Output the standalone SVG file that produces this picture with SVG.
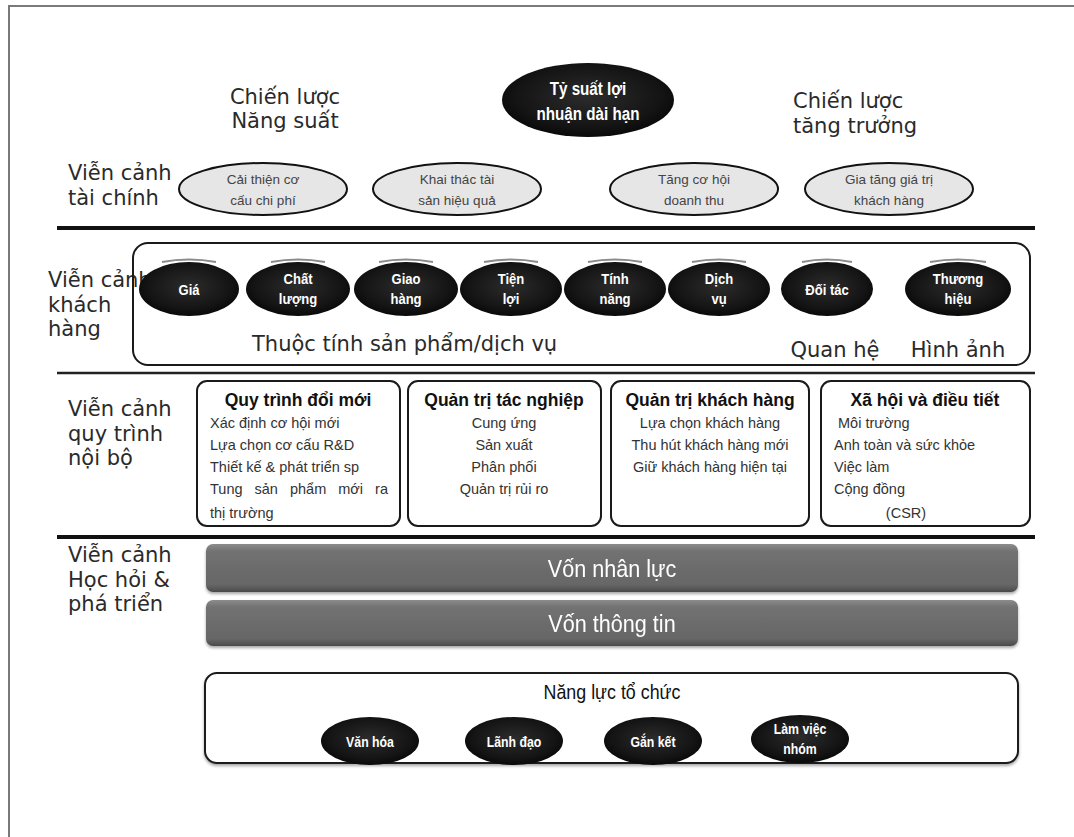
<svg xmlns="http://www.w3.org/2000/svg" width="1074" height="837" viewBox="0 0 1074 837">
  <defs>
    <radialGradient id="darkFill" cx="50%" cy="45%" r="60%">
      <stop offset="0" stop-color="#2c2c2c"/>
      <stop offset="0.7" stop-color="#141414"/>
      <stop offset="1" stop-color="#050505"/>
    </radialGradient>
    <linearGradient id="barFill" x1="0" y1="0" x2="0" y2="1">
      <stop offset="0" stop-color="#8c8c8c"/>
      <stop offset="0.15" stop-color="#727272"/>
      <stop offset="0.85" stop-color="#666666"/>
      <stop offset="1" stop-color="#4a4a4a"/>
    </linearGradient>
    <filter id="soft" x="-5%" y="-20%" width="110%" height="150%">
      <feGaussianBlur in="SourceAlpha" stdDeviation="1.5"/>
      <feOffset dy="2"/>
      <feComponentTransfer><feFuncA type="linear" slope="0.35"/></feComponentTransfer>
      <feMerge><feMergeNode/><feMergeNode in="SourceGraphic"/></feMerge>
    </filter>
  </defs>
  <style>
    .frame { fill: none; stroke: #7a7a7a; stroke-width: 2; }
    .rule { stroke: #111; stroke-width: 4; }
    .rule-thin { stroke: #222; stroke-width: 2.5; }
    .label { font-family: "DejaVu Sans", Verdana, sans-serif; font-size: 21px; fill: #2a2a2a; }
    .fin { fill: #e6e6e6; stroke: #111; stroke-width: 2; }
    .fin-t { font-family: "Liberation Sans", Arial, sans-serif; font-size: 13.5px; fill: #444; text-anchor: middle; }
    .dark { fill: url(#darkFill); }
    .hl { fill: none; stroke: #8a8a8a; stroke-width: 2; }
    .narrow { font-family: "Liberation Sans", Arial, sans-serif; text-anchor: middle; }
    .dark-t { font-weight: bold; font-size: 15px; fill: #fff; }
    .goal-t { font-size: 19px; }
    .box { fill: #fff; stroke: #1a1a1a; stroke-width: 2; }
    .title { font-family: "Liberation Sans", Arial, sans-serif; font-weight: bold; font-size: 17.5px; fill: #111; text-anchor: middle; }
    .item { font-family: "Liberation Sans", Arial, sans-serif; font-size: 14.5px; fill: #333; }
    .mid { text-anchor: middle; }
    .bar { fill: url(#barFill); }
    .bar-t { font-size: 24px; fill: #fff; }
  </style>

  <rect width="1074" height="837" fill="#fff"/>
  <!-- page frame (left and top edges) -->
  <path class="frame" d="M9 837 V6 H1074"/>

  <!-- section rules -->
  <g id="connectors">
    <line class="rule" x1="57" y1="228" x2="1035" y2="228"/>
    <line class="rule-thin" x1="57" y1="373" x2="1035" y2="373"/>
    <line class="rule" x1="57" y1="537" x2="1035" y2="537"/>
  </g>

  <!-- strategy headings -->
  <g id="strategy-productivity">
    <text class="label mid" x="285" y="104">Chiến lược</text>
    <text class="label mid" x="285" y="128">Năng suất</text>
  </g>
  <g id="strategy-growth">
    <text class="label" x="793" y="108">Chiến lược</text>
    <text class="label" x="793" y="133">tăng trưởng</text>
  </g>

  <g id="goal">
    <ellipse class="dark" cx="588" cy="100" rx="86" ry="37"/>
    <text class="narrow dark-t goal-t" transform="translate(588 95) scale(0.8 1)">Tỷ suất lợi</text>
    <text class="narrow dark-t goal-t" transform="translate(588 120) scale(0.8 1)">nhuận dài hạn</text>
  </g>

  <!-- financial perspective -->
  <g id="financial-label">
    <text class="label" x="68" y="180">Viễn cảnh</text>
    <text class="label" x="68" y="205">tài chính</text>
  </g>
  <g id="fin-cost">
    <ellipse class="fin" cx="263" cy="189" rx="84" ry="26"/>
    <text class="fin-t" x="263" y="184">Cải thiện cơ</text>
    <text class="fin-t" x="263" y="205">cấu chi phí</text>
  </g>
  <g id="fin-assets">
    <ellipse class="fin" cx="457" cy="189" rx="84" ry="26"/>
    <text class="fin-t" x="457" y="184">Khai thác tài</text>
    <text class="fin-t" x="457" y="205">sản hiệu quả</text>
  </g>
  <g id="fin-revenue">
    <ellipse class="fin" cx="694" cy="189" rx="84" ry="26"/>
    <text class="fin-t" x="694" y="184">Tăng cơ hội</text>
    <text class="fin-t" x="694" y="205">doanh thu</text>
  </g>
  <g id="fin-value">
    <ellipse class="fin" cx="889" cy="189" rx="84" ry="26"/>
    <text class="fin-t" x="889" y="184">Gia tăng giá trị</text>
    <text class="fin-t" x="889" y="205">khách hàng</text>
  </g>

  <!-- customer perspective -->
  <g id="customer-label">
    <text class="label" x="48" y="287">Viễn cảnh</text>
    <text class="label" x="48" y="312">khách</text>
    <text class="label" x="48" y="336">hàng</text>
  </g>
  <g id="customer-frame">
    <rect x="133" y="243" width="897" height="122" rx="15" fill="none" stroke="#1a1a1a" stroke-width="2"/>
    <text class="label" x="252" y="351">Thuộc tính sản phẩm/dịch vụ</text>
    <text class="label mid" x="835" y="357">Quan hệ</text>
    <text class="label mid" x="958" y="357">Hình ảnh</text>
  </g>
  <g id="c-price">
    <path class="hl" d="M162 262 Q189 257 216 262"/>
    <ellipse class="dark" cx="189" cy="289" rx="50" ry="27"/>
    <text class="narrow dark-t" transform="translate(189 295) scale(0.87 1)">Giá</text>
  </g>
  <g id="c-quality">
    <path class="hl" d="M271 262 Q298 257 325 262"/>
    <ellipse class="dark" cx="298" cy="289" rx="52" ry="27"/>
    <text class="narrow dark-t" transform="translate(298 284) scale(0.87 1)">Chất</text>
    <text class="narrow dark-t" transform="translate(298 304) scale(0.87 1)">lượng</text>
  </g>
  <g id="c-delivery">
    <path class="hl" d="M379 262 Q406 257 433 262"/>
    <ellipse class="dark" cx="406" cy="289" rx="52" ry="27"/>
    <text class="narrow dark-t" transform="translate(406 284) scale(0.87 1)">Giao</text>
    <text class="narrow dark-t" transform="translate(406 304) scale(0.87 1)">hàng</text>
  </g>
  <g id="c-convenience">
    <path class="hl" d="M484 262 Q511 257 538 262"/>
    <ellipse class="dark" cx="511" cy="289" rx="51" ry="27"/>
    <text class="narrow dark-t" transform="translate(511 284) scale(0.87 1)">Tiện</text>
    <text class="narrow dark-t" transform="translate(511 304) scale(0.87 1)">lợi</text>
  </g>
  <g id="c-features">
    <path class="hl" d="M588 262 Q615 257 642 262"/>
    <ellipse class="dark" cx="615" cy="289" rx="51" ry="27"/>
    <text class="narrow dark-t" transform="translate(615 284) scale(0.87 1)">Tính</text>
    <text class="narrow dark-t" transform="translate(615 304) scale(0.87 1)">năng</text>
  </g>
  <g id="c-service">
    <path class="hl" d="M692 262 Q719 257 746 262"/>
    <ellipse class="dark" cx="719" cy="289" rx="51" ry="27"/>
    <text class="narrow dark-t" transform="translate(719 284) scale(0.87 1)">Dịch</text>
    <text class="narrow dark-t" transform="translate(719 304) scale(0.87 1)">vụ</text>
  </g>
  <g id="c-partner">
    <path class="hl" d="M802 262 Q827 257 852 262"/>
    <ellipse class="dark" cx="827" cy="289" rx="46" ry="27"/>
    <text class="narrow dark-t" transform="translate(827 295) scale(0.87 1)">Đối tác</text>
  </g>
  <g id="c-brand">
    <path class="hl" d="M930 262 Q958 257 986 262"/>
    <ellipse class="dark" cx="958" cy="289" rx="53" ry="27"/>
    <text class="narrow dark-t" transform="translate(958 284) scale(0.87 1)">Thương</text>
    <text class="narrow dark-t" transform="translate(958 304) scale(0.87 1)">hiệu</text>
  </g>

  <!-- internal process perspective -->
  <g id="internal-label">
    <text class="label" x="68" y="416">Viễn cảnh</text>
    <text class="label" x="68" y="441">quy trình</text>
    <text class="label" x="68" y="465">nội bộ</text>
  </g>
  <g id="p-innovation">
    <rect class="box" x="197" y="381" width="203" height="145" rx="10"/>
    <text class="title" x="298" y="406">Quy trình đổi mới</text>
    <text class="item" x="210" y="428">Xác định cơ hội mới</text>
    <text class="item" x="210" y="450">Lựa chọn cơ cấu R&amp;D</text>
    <text class="item" x="210" y="472">Thiết kế &amp; phát triển sp</text>
    <text class="item" x="210" y="494" word-spacing="8">Tung sản phẩm mới ra</text>
    <text class="item" x="210" y="518">thị trường</text>
  </g>
  <g id="p-operations">
    <rect class="box" x="408" y="381" width="193" height="145" rx="10"/>
    <text class="title" x="504" y="406">Quản trị tác nghiệp</text>
    <text class="item mid" x="504" y="428">Cung ứng</text>
    <text class="item mid" x="504" y="450">Sản xuất</text>
    <text class="item mid" x="504" y="472">Phân phối</text>
    <text class="item mid" x="504" y="494">Quản trị rủi ro</text>
  </g>
  <g id="p-customer">
    <rect class="box" x="611" y="381" width="198" height="145" rx="10"/>
    <text class="title" x="710" y="406">Quản trị khách hàng</text>
    <text class="item mid" x="710" y="428">Lựa chọn khách hàng</text>
    <text class="item mid" x="710" y="450">Thu hút khách hàng mới</text>
    <text class="item mid" x="710" y="472">Giữ khách hàng hiện tại</text>
  </g>
  <g id="p-social">
    <rect class="box" x="821" y="381" width="209" height="145" rx="10"/>
    <text class="title" x="925" y="406">Xã hội và điều tiết</text>
    <text class="item" x="838" y="428">Môi trường</text>
    <text class="item" x="834" y="450">Anh toàn và sức khỏe</text>
    <text class="item" x="834" y="472">Việc làm</text>
    <text class="item" x="834" y="494">Cộng đồng</text>
    <text class="item mid" x="906" y="518">(CSR)</text>
  </g>

  <!-- learning and growth perspective -->
  <g id="learning-label">
    <text class="label" x="68" y="562" font-size="20">Viễn cảnh</text>
    <text class="label" x="68" y="587" font-size="20">Học hỏi &amp;</text>
    <text class="label" x="68" y="611" font-size="20">phá triển</text>
  </g>
  <g id="human-capital" filter="url(#soft)">
    <rect class="bar" x="206" y="544" width="812" height="48" rx="7"/>
    <text class="narrow bar-t" transform="translate(612 577) scale(0.9 1)">Vốn nhân lực</text>
  </g>
  <g id="information-capital" filter="url(#soft)">
    <rect class="bar" x="206" y="600" width="812" height="46" rx="7"/>
    <text class="narrow bar-t" transform="translate(612 632) scale(0.9 1)">Vốn thông tin</text>
  </g>

  <g id="organization-capital">
    <rect class="box" x="205" y="673" width="813" height="90" rx="12" filter="url(#soft)"/>
    <text class="narrow" font-size="21" fill="#111" transform="translate(612 699) scale(0.85 1)">Năng lực tổ chức</text>
  </g>
  <g id="o-culture">
    <ellipse class="dark" cx="370" cy="741" rx="49" ry="24"/>
    <text class="narrow dark-t" transform="translate(370 747) scale(0.82 1)">Văn hóa</text>
  </g>
  <g id="o-leadership">
    <ellipse class="dark" cx="514" cy="741" rx="49" ry="24"/>
    <text class="narrow dark-t" transform="translate(514 747) scale(0.82 1)">Lãnh đạo</text>
  </g>
  <g id="o-alignment">
    <ellipse class="dark" cx="653" cy="741" rx="49" ry="24"/>
    <text class="narrow dark-t" transform="translate(653 747) scale(0.82 1)">Gắn kết</text>
  </g>
  <g id="o-teamwork">
    <ellipse class="dark" cx="800" cy="739" rx="49" ry="24"/>
    <text class="narrow dark-t" transform="translate(800 734) scale(0.82 1)">Làm việc</text>
    <text class="narrow dark-t" transform="translate(800 754) scale(0.82 1)">nhóm</text>
  </g>
</svg>
